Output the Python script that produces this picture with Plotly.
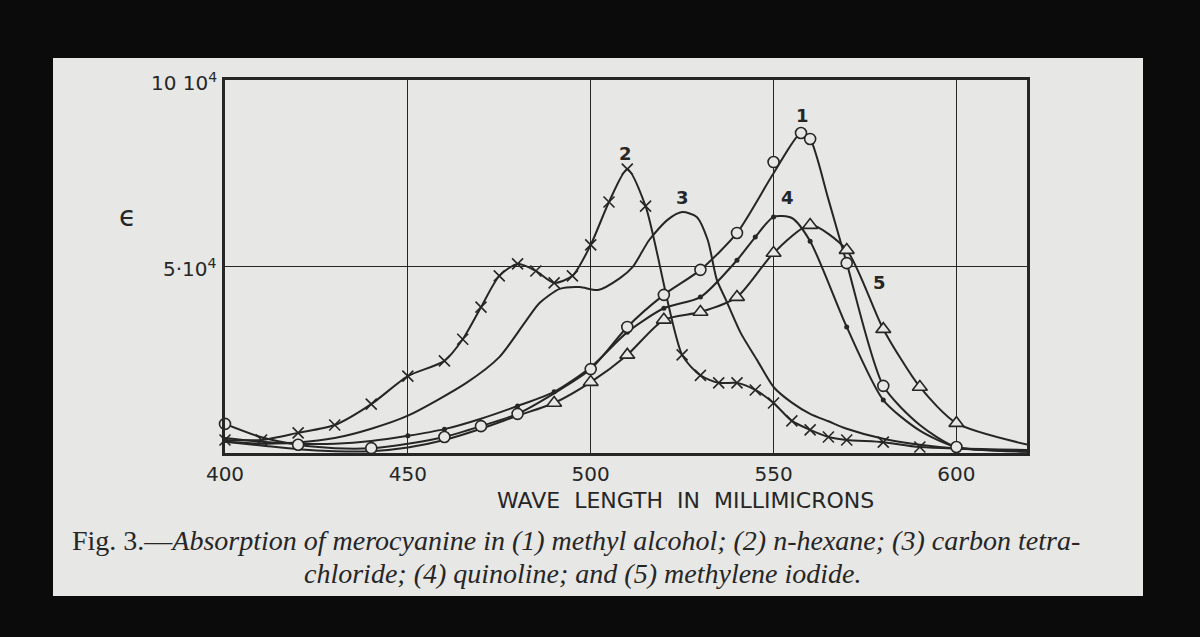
import plotly.graph_objects as go

# ---- data (epsilon in units of 10^4) ----
wl_1 = [400, 410, 420, 430, 440, 450, 460, 470, 480, 490, 500, 510, 520, 530, 540, 550, 557.5, 560, 565, 570, 580, 590, 600, 620]
eps_1 = [0.78, 0.42, 0.22, 0.13, 0.13, 0.25, 0.43, 0.72, 1.05, 1.6, 2.25, 3.38, 4.24, 4.91, 5.9, 7.5, 8.58, 8.42, 6.8, 5.09, 1.8, 0.75, 0.16, 0.08]
mk_1 = [400, 420, 440, 460, 470, 480, 500, 510, 520, 530, 540, 550, 557.5, 560, 570, 580, 600, 620]
mv_1 = [0.78, 0.22, 0.13, 0.43, 0.72, 1.05, 2.25, 3.38, 4.24, 4.91, 5.9, 7.8, 8.58, 8.42, 5.09, 1.8, 0.16, 0.08]

wl_2 = [400, 410, 420, 430, 440, 450, 460, 465, 470, 475, 480, 485, 490, 495, 500, 505, 510, 515, 525, 530, 535, 540, 545, 550, 555, 560, 565, 570, 580, 590, 620]
eps_2 = [0.35, 0.35, 0.54, 0.75, 1.31, 2.06, 2.47, 3.05, 3.91, 4.75, 5.07, 4.88, 4.56, 4.75, 5.58, 6.73, 7.61, 6.62, 2.63, 2.08, 1.88, 1.88, 1.69, 1.34, 0.86, 0.62, 0.43, 0.35, 0.29, 0.16, 0.08]

wl_3 = [400, 410, 420, 430, 440, 450, 466, 475, 482.5, 486, 491.5, 497, 502, 508, 511.5, 516, 521, 525, 529, 532, 534.5, 537, 541, 545.5, 550, 555, 560, 565, 570, 580, 590, 600, 620]
eps_3 = [0.3, 0.25, 0.28, 0.4, 0.65, 1.0, 1.88, 2.57, 3.57, 4.02, 4.4, 4.45, 4.37, 4.69, 4.99, 5.71, 6.25, 6.46, 6.33, 5.71, 4.64, 4.1, 3.22, 2.49, 1.77, 1.35, 1.05, 0.85, 0.65, 0.38, 0.22, 0.12, 0.04]

wl_4 = [400, 410, 420, 430, 440, 450, 460, 470, 480, 490, 500, 510, 520, 530, 540, 545, 550, 555, 560, 570, 580, 590, 600, 620]
eps_4 = [0.4, 0.3, 0.25, 0.25, 0.32, 0.46, 0.64, 0.92, 1.26, 1.64, 2.3, 3.24, 3.88, 4.18, 5.17, 5.79, 6.33, 6.3, 5.68, 3.38, 1.42, 0.6, 0.16, 0.03]
mk_4 = [450, 460, 480, 490, 500, 510, 520, 530, 540, 545, 550, 560, 570, 580, 600]
mv_4 = [0.46, 0.64, 1.26, 1.64, 2.2, 3.24, 3.88, 4.18, 5.17, 5.79, 6.33, 5.68, 3.38, 1.42, 0.16]

wl_5 = [400, 410, 420, 430, 440, 450, 460, 470, 480, 490, 500, 510, 520, 530, 540, 550, 560, 570, 580, 590, 600, 620]
eps_5 = [0.3, 0.2, 0.1, 0.05, 0.05, 0.15, 0.35, 0.65, 1.0, 1.34, 1.9, 2.63, 3.57, 3.78, 4.18, 5.36, 6.11, 5.44, 3.32, 1.77, 0.8, 0.21]
mk_5 = [490, 500, 510, 520, 530, 540, 550, 560, 570, 580, 590, 600, 620]
mv_5 = [1.34, 1.9, 2.63, 3.57, 3.78, 4.18, 5.36, 6.11, 5.44, 3.32, 1.77, 0.8, 0.21]

curve_labels = ["1", "2", "3", "4", "5"]
label_x = [557.9, 509.6, 525.1, 553.8, 579.0]
label_y = [9.06, 8.04, 6.86, 6.86, 4.56]

x_ticks = [400, 450, 500, 550, 600]

INK = "#262626"
CARD = "#e7e7e5"

fig = go.Figure()

def line(x, y):
    fig.add_trace(go.Scatter(x=x, y=y, mode="lines", line=dict(color=INK, width=2, shape="spline", smoothing=0.7),
                             hoverinfo="skip", showlegend=False, cliponaxis=False))

def marks(x, y, sym, size, fill, lw=1.6):
    fig.add_trace(go.Scatter(x=x, y=y, mode="markers",
                             marker=dict(symbol=sym, size=size, color=fill, line=dict(color=INK, width=lw)),
                             hoverinfo="skip", showlegend=False, cliponaxis=False))

line(wl_3, eps_3)
line(wl_4, eps_4)
line(wl_5, eps_5)
line(wl_1, eps_1)
line(wl_2, eps_2)
marks(mk_4, mv_4, "circle", 5, INK, 0)
marks(mk_5, mv_5, "triangle-up", 13, CARD)
marks(mk_1, mv_1, "circle", 11, CARD)
marks(wl_2, eps_2, "x-thin-open", 11, INK, 1.6)

for t, xx, yy in zip(curve_labels, label_x, label_y):
    fig.add_annotation(x=xx, y=yy, text="<b>%s</b>" % t, showarrow=False,
                       font=dict(family="DejaVu Sans", size=18, color=INK))

# card background
L, T, W, H = 225, 80, 802, 373
def px(xp): return (xp - L) / W
def py(yp): return (T + H - yp) / H
fig.add_shape(type="rect", xref="paper", yref="paper", x0=px(53), x1=px(1143), y0=py(596), y1=py(58),
              fillcolor=CARD, line=dict(width=0), layer="below")

# y labels
fig.add_annotation(xref="paper", yref="paper", x=px(219), y=py(82), xanchor="right", yanchor="middle",
                   text="10 10<sup>4</sup>", showarrow=False, font=dict(family="DejaVu Sans", size=20, color=INK))
fig.add_annotation(xref="paper", yref="paper", x=px(219), y=py(268), xanchor="right", yanchor="middle",
                   text="5·10<sup>4</sup>", showarrow=False, font=dict(family="DejaVu Sans", size=20, color=INK))
fig.add_annotation(xref="paper", yref="paper", x=px(127), y=py(216), xanchor="center", yanchor="middle",
                   text="ϵ", showarrow=False, font=dict(family="DejaVu Sans", size=28, color=INK))
fig.add_annotation(xref="paper", yref="paper", x=px(685), y=py(500), xanchor="center", yanchor="middle",
                   text="WAVE&nbsp; LENGTH&nbsp; IN&nbsp; MILLIMICRONS", showarrow=False,
                   font=dict(family="DejaVu Sans", size=22, color=INK))
fig.add_annotation(xref="paper", yref="paper", x=px(576), y=py(540), xanchor="center", yanchor="middle",
                   text="Fig. 3.—<i>Absorption of merocyanine in (1) methyl alcohol; (2) n-hexane; (3) carbon tetra-</i>",
                   showarrow=False, font=dict(family="Liberation Serif", size=28, color=INK))
fig.add_annotation(xref="paper", yref="paper", x=px(583), y=py(573), xanchor="center", yanchor="middle",
                   text="<i>chloride; (4) quinoline; and (5) methylene iodide.</i>",
                   showarrow=False, font=dict(family="Liberation Serif", size=28, color=INK))

fig.update_layout(
    width=1200, height=637,
    margin=dict(l=L, r=1200 - L - W, t=T, b=637 - T - H),
    paper_bgcolor="#0b0b0b", plot_bgcolor=CARD,
    xaxis=dict(range=[400, 619.3], tickvals=x_ticks, ticktext=[str(v) for v in x_ticks],
               showgrid=True, gridcolor=INK, gridwidth=1.3, zeroline=False,
               showline=True, linecolor=INK, linewidth=2.5, mirror=True, ticks="",
               tickfont=dict(family="DejaVu Sans", size=20, color=INK), ticklabelstandoff=1),
    yaxis=dict(range=[0, 10], tickvals=[0, 5, 10], showticklabels=False,
               showgrid=True, gridcolor=INK, gridwidth=1.3, zeroline=False,
               showline=True, linecolor=INK, linewidth=2.5, mirror=True, ticks=""),
)

fig.write_html("out.html", config={"displayModeBar": False},
               post_script="document.body.style.margin='0';document.body.style.padding='0';document.body.style.overflow='hidden';")
